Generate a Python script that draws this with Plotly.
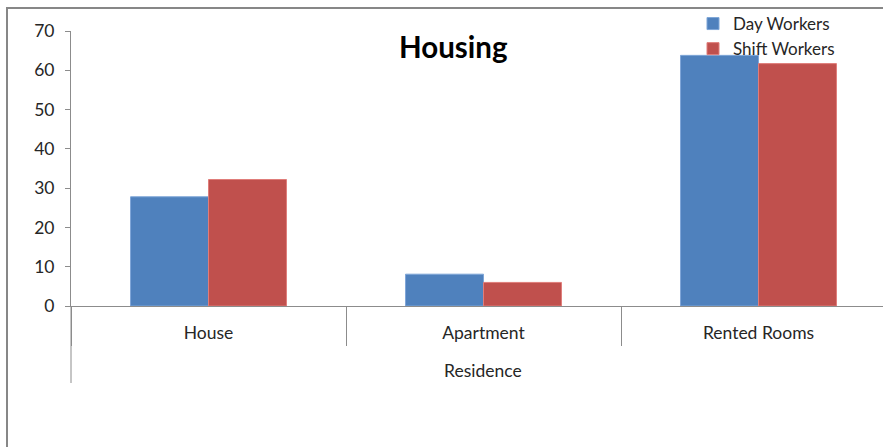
import plotly.graph_objects as go

# Housing survey: share of respondents by type of residence
categories = ["House", "Apartment", "Rented Rooms"]
day_workers = [27.8, 8.1, 63.8]
shift_workers = [32.2, 6.0, 61.7]
y_ticks = [0, 10, 20, 30, 40, 50, 60, 70]

FONT = "Lato, 'Open Sans', sans-serif"
TEXT = "#262626"
AXIS = "#8c8c8c"
FS = 17.5

W, H = 883, 447
L, T, B = 71, 31, 141
plot_w = W - L
plot_h = H - T - B
cat_px = 275  # pixel width of one category slot

def px_x(px):
    return (px - L) / plot_w

def px_y(py):
    return (H - B - py) / plot_h

fig = go.Figure()
fig.add_trace(go.Bar(name="Day Workers", x=categories, y=day_workers,
                     marker=dict(color="#4f81bd", line=dict(color="#7ea6d8", width=1))))
fig.add_trace(go.Bar(name="Shift Workers", x=categories, y=shift_workers,
                     marker=dict(color="#c0504d", line=dict(color="#e07d7a", width=1))))

fig.update_layout(
    width=W, height=H,
    margin=dict(l=L, r=0, t=T, b=B),
    paper_bgcolor="white", plot_bgcolor="white",
    barmode="group", bargap=0.433, bargroupgap=0,
    font=dict(family=FONT, size=FS, color=TEXT),
    showlegend=True,
    legend=dict(x=px_x(693), y=px_y(6), xanchor="left", yanchor="top",
                font=dict(size=17, color=TEXT), bgcolor="rgba(0,0,0,0)",
                tracegroupgap=0, itemwidth=30),
    xaxis=dict(
        type="category", range=[-0.5, -0.5 + plot_w / cat_px],
        showline=True, linecolor=AXIS, linewidth=1,
        ticks="outside", tickson="boundaries", ticklen=39, tickcolor=AXIS,
        ticklabelstandoff=11,
        tickfont=dict(size=FS, color=TEXT), showgrid=False, zeroline=False,
        fixedrange=True,
    ),
    yaxis=dict(
        range=[0, 70], tickvals=y_ticks, showline=True, linecolor=AXIS, linewidth=1,
        ticks="outside", ticklen=5, tickcolor=AXIS, showgrid=False, zeroline=False,
        tickfont=dict(size=FS, color=TEXT), ticklabelstandoff=7,
    ),
)

# Axis title below the category labels
fig.add_annotation(text="Residence", xref="paper", yref="paper",
                   x=px_x(483.5), y=px_y(370), xanchor="center", yanchor="middle",
                   showarrow=False, font=dict(size=FS, color=TEXT))

# Chart title
fig.add_annotation(text="<b>Housing</b>", xref="paper", yref="paper",
                   x=px_x(453), y=px_y(46), xanchor="center", yanchor="middle",
                   showarrow=False, font=dict(size=29.5, color="#000000"))

# Vertical axis line continues down past the category band
fig.add_shape(type="line", xref="paper", yref="paper",
              x0=0, x1=0, y0=0, y1=px_y(383), line=dict(color=AXIS, width=1))

# Chart frame
fig.add_shape(type="rect", xref="paper", yref="paper",
              x0=px_x(7), x1=px_x(W + 20), y0=px_y(H + 20), y1=px_y(8),
              line=dict(color="#878787", width=2), layer="below")

fig.write_html("out.html")
